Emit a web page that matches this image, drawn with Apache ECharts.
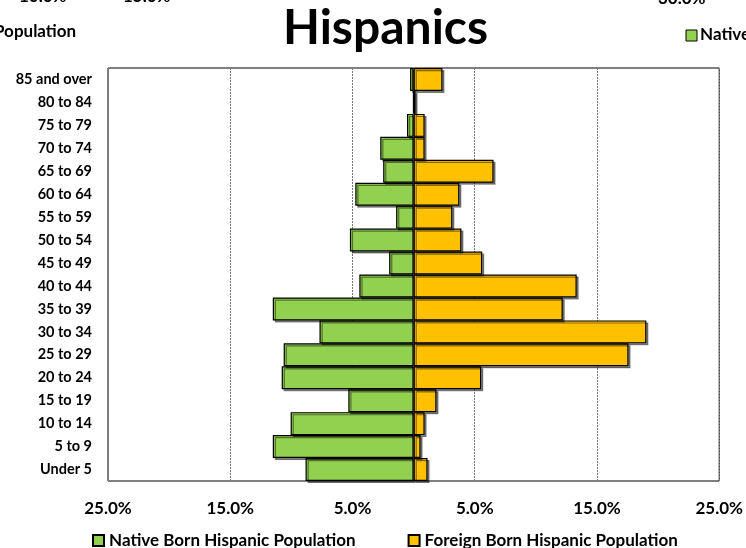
<!DOCTYPE html>
<html><head><meta charset="utf-8">
<script src="https://cdn.jsdelivr.net/npm/echarts@6/dist/echarts.min.js"></script>
<style>html,body{margin:0;padding:0;background:#fff}#c{width:746px;height:548px}</style>
</head><body><div id="c"></div>
<script>
const categories = ['Under 5','5 to 9','10 to 14','15 to 19','20 to 24','25 to 29','30 to 34','35 to 39','40 to 44','45 to 49','50 to 54','55 to 59','60 to 64','65 to 69','70 to 74','75 to 79','80 to 84','85 and over'];
const nativeBorn = [8.84, 11.52, 10.06, 5.34, 10.79, 10.63, 7.70, 11.52, 4.44, 2.0, 5.21, 1.43, 4.77, 2.49, 2.73, 0.54, 0.03, 0.29];
const foreignBorn = [1.14, 0.57, 0.90, 1.87, 5.53, 17.58, 19.04, 12.2, 13.34, 5.61, 3.91, 3.17, 3.74, 6.54, 0.90, 0.90, 0.16, 2.36];
const seriesNames = ['Native Born Hispanic Population', 'Foreign Born Hispanic Population'];
const titleText = 'Hispanics';

const FONT = 'Lato';
const chart = echarts.init(document.getElementById('c'));
const barStyle = (color) => ({
  color: color, borderColor: '#000', borderWidth: 1.2,
  shadowColor: 'rgba(0,0,0,0.45)', shadowOffsetX: 2, shadowOffsetY: 2, shadowBlur: 0
});
chart.setOption({
  animation: false,
  backgroundColor: '#fff',
  title: {
    text: titleText, left: 278, top: 0,
    textStyle: {fontFamily: FONT, fontWeight: 'bold', fontSize: 48, color: '#000'}
  },
  legend: {
    left: 87, top: 527, itemWidth: 11, itemHeight: 11, itemGap: 52, icon: 'rect',
    data: seriesNames,
    textStyle: {fontFamily: FONT, fontWeight: 'bold', fontSize: 17, color: '#000'}
  },
  grid: {left: 108, right: 24, top: 68, bottom: 67, show: true, borderColor: '#000', borderWidth: 1, containLabel: false},
  xAxis: {
    type: 'value', min: -25, max: 25, interval: 10,
    axisLine: {show: false}, axisTick: {show: false},
    splitLine: {show: true, lineStyle: {color: '#777', type: [2, 1], width: 1}},
    axisLabel: {
      margin: 19, fontFamily: FONT, fontWeight: 'bold', fontSize: 17, color: '#000',
      formatter: v => Math.abs(v).toFixed(1) + '%'
    }
  },
  yAxis: {
    type: 'category', data: categories,
    axisLine: {show: false}, axisTick: {show: false},
    axisLabel: {margin: 16, fontFamily: FONT, fontWeight: 'bold', fontSize: 14.5, color: '#000'}
  },
  series: [
    {name: seriesNames[0], type: 'bar', stack: 'p', barCategoryGap: '0%',
     data: nativeBorn.map(v => -v), itemStyle: barStyle('#92D050')},
    {name: seriesNames[1], type: 'bar', stack: 'p', barCategoryGap: '0%',
     data: foreignBorn, itemStyle: barStyle('#FFC000')}
  ],
  graphic: [
    {type: 'text', left: 19, top: -12, style: {text: '10.0%', font: 'bold 17px Lato', fill: '#000'}},
    {type: 'text', left: 123, top: -12, style: {text: '15.0%', font: 'bold 17px Lato', fill: '#000'}},
    {type: 'text', left: 658, top: -10, style: {text: '30.0%', font: 'bold 17px Lato', fill: '#000'}},
    {type: 'text', left: -6, top: 23, style: {text: 'Population', font: 'bold 17px Lato', fill: '#000'}},
    {type: 'rect', shape: {x: 686, y: 30, width: 11, height: 11}, style: {fill: '#92D050', stroke: '#000', lineWidth: 1}},
    {type: 'text', left: 700, top: 26, style: {text: 'Native', font: 'bold 17px Lato', fill: '#000'}}
  ]
});
</script></body></html>
